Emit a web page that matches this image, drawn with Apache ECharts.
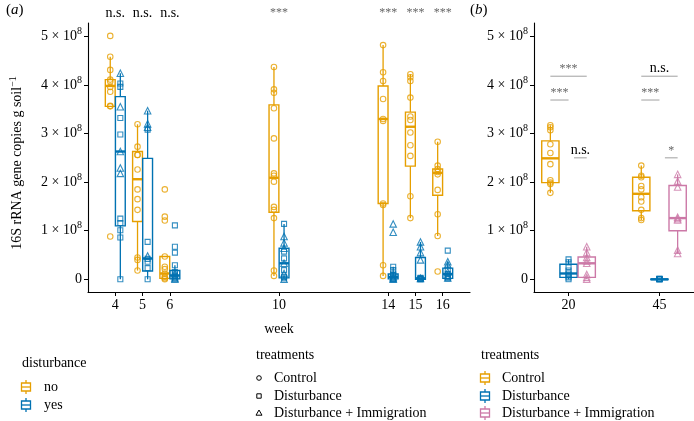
<!DOCTYPE html>
<html><head><meta charset="utf-8">
<script src="https://cdn.jsdelivr.net/npm/echarts@6.0.0/dist/echarts.min.js"></script>
<style>html,body{margin:0;padding:0;background:#fff}#c{width:694px;height:421px}</style>
</head><body><div id="c"></div>
<script>
// ---------- DATA (values in units of 10^8 copies g soil^-1) ----------
const weeks = [4, 5, 6, 10, 14, 15, 16];
const yTicks = [0, 1, 2, 3, 4, 5];
// box stats: [lower whisker, q1, median, q3, upper whisker]
const boxNo = [
  [3.56, 3.56, 3.98, 4.11, 4.58],
  [0.18, 1.19, 2.06, 2.63, 3.19],
  [0.00, 0.02, 0.12, 0.47, 0.47],
  [0.07, 1.38, 2.09, 3.59, 4.37],
  [0.07, 1.56, 3.30, 3.98, 4.82],
  [1.26, 2.33, 3.14, 3.44, 4.22],
  [0.89, 1.73, 2.19, 2.27, 2.83]
];
const boxYes = [
  [0.00, 1.10, 2.63, 3.76, 4.24],
  [0.00, 0.17, 0.43, 2.49, 3.47],
  [0.00, 0.01, 0.08, 0.18, 0.29],
  [0.00, 0.03, 0.33, 0.64, 1.14],
  [0.00, 0.01, 0.05, 0.11, 0.26],
  [0.00, 0.00, 0.02, 0.45, 0.77],
  [0.00, 0.02, 0.11, 0.23, 0.36]
];
// points, disturbance = no (Control, circles)
const noPts = [
  [5.01, 4.58, 4.31, 4.11, 4.07, 3.96, 3.86, 3.57, 3.56, 0.88],
  [3.19, 2.73, 2.56, 2.56, 2.26, 1.85, 1.65, 1.43, 0.45, 0.40, 0.18],
  [1.85, 1.29, 1.21, 0.47, 0.26, 0.21, 0.12, 0.05, 0.02, 0.00],
  [4.37, 3.91, 3.84, 3.52, 2.90, 2.18, 2.13, 2.01, 1.49, 1.43, 1.26, 0.18, 0.07],
  [4.82, 4.26, 4.08, 3.71, 3.30, 3.26, 1.56, 1.53, 0.29, 0.07],
  [4.22, 4.16, 4.08, 3.74, 3.35, 3.28, 3.02, 2.76, 2.54, 1.71, 1.26],
  [2.83, 2.34, 2.27, 2.21, 2.16, 1.84, 1.34, 0.89, 0.16]
];
// points, disturbance = yes: Disturbance (squares)
const yesSqPts = [
  [4.03, 3.96, 3.32, 2.98, 1.25, 1.16, 1.01, 0.86, 0.00],
  [3.08, 0.77, 0.42, 0.36, 0.23, 0.00],
  [1.11, 0.67, 0.55, 0.29, 0.15, 0.10, 0.06, 0.02],
  [1.14, 0.57, 0.43, 0.19, 0.05, 0.02],
  [0.26, 0.19, 0.12, 0.09, 0.06, 0.02, 0.00],
  [0.03, 0.02, 0.01, 0.00, 0.00],
  [0.59, 0.20, 0.11, 0.05, 0.02]
];
// points, disturbance = yes: Disturbance + Immigration (triangles)
const yesTriPts = [
  [4.24, 3.55, 2.63, 2.29, 2.18],
  [3.47, 3.20, 3.13, 0.48],
  [0.12, 0.08, 0.03, 0.00],
  [0.88, 0.75, 0.64, 0.33, 0.12, 0.00],
  [1.14, 0.97, 0.05, 0.02, 0.00],
  [0.77, 0.67, 0.55, 0.40, 0.02],
  [0.36, 0.30, 0.15, 0.08, 0.03]
];
const sigA = ['n.s.', 'n.s.', 'n.s.', '***', '***', '***', '***'];

// panel (b)
const bCats = ['20', '45'];
const ctrlBox = [[1.78, 1.99, 2.49, 2.85, 3.17], [1.22, 1.41, 1.76, 2.10, 2.34]];
const distBox = [[0.00, 0.04, 0.12, 0.31, 0.41], [0.00, 0.00, 0.00, 0.005, 0.01]];
const diBox   = [[0.00, 0.04, 0.33, 0.46, 0.67], [0.53, 1.00, 1.26, 1.93, 2.16]];
const ctrlPts = [[3.17, 3.13, 3.07, 2.78, 2.60, 2.37, 2.04, 1.99, 1.96, 1.78],
                 [2.34, 2.13, 2.10, 1.92, 1.85, 1.69, 1.60, 1.43, 1.26, 1.22]];
const distPts = [[0.41, 0.35, 0.25, 0.18, 0.12, 0.08, 0.04, 0.00],
                 [0.01, 0.01, 0.00, 0.00, 0.00, 0.00]];
const diPts   = [[0.67, 0.55, 0.45, 0.38, 0.33, 0.10, 0.04, 0.00],
                 [2.16, 2.02, 1.90, 1.28, 1.25, 1.22, 0.60, 0.53]];
// significance brackets in (b)
const sigBCat   = [0, 0, 0, 1, 1, 1];
const sigBFrom  = [-1, -1, 0.3, -1, -1, 0.3];
const sigBTo    = [1, 0, 1, 1, 0, 1];
const sigBLevel = [4.18, 3.69, 2.50, 4.18, 3.69, 2.50];
const sigBLabel = ['***', '***', 'n.s.', 'n.s.', '***', '*'];

// ---------- STYLE ----------
const F = '"Liberation Serif","Times New Roman",serif';
const ORANGE = '#E69F00', BLUE = '#0072B2', PINK = '#CC79A7';
const OFF_A = 0.185, W_A = 0.36, OFF_B = 0.2, W_B = 0.19;
const bPos = bCats.map((c, i) => i + 1);

function boxSeries(ax, rows, off, w, color) {
  return {
    type: 'custom', xAxisIndex: ax, yAxisIndex: ax, z: 2, silent: true,
    data: rows, encode: { x: 0, y: [1, 2, 3, 4, 5] },
    renderItem: (params, api) => {
      const x = api.value(0) + off;
      const c = k => api.coord([x, api.value(k)]);
      const lo = c(1), q1 = c(2), md = c(3), q3 = c(4), hi = c(5);
      const half = api.size([w, 0])[0] / 2;
      return { type: 'group', children: [
        { type: 'line', shape: { x1: lo[0], y1: lo[1], x2: q1[0], y2: q1[1] }, style: { stroke: color, lineWidth: 1.3 } },
        { type: 'line', shape: { x1: q3[0], y1: q3[1], x2: hi[0], y2: hi[1] }, style: { stroke: color, lineWidth: 1.3 } },
        { type: 'rect', shape: { x: md[0] - half, y: q3[1], width: 2 * half, height: Math.max(q1[1] - q3[1], 0.5) },
          style: { fill: '#fff', stroke: color, lineWidth: 1.4 } },
        { type: 'line', shape: { x1: md[0] - half, y1: md[1], x2: md[0] + half, y2: md[1] }, style: { stroke: color, lineWidth: 2.4 } }
      ]};
    }
  };
}
function ptSeries(ax, data, symbol, size, color) {
  return { type: 'scatter', xAxisIndex: ax, yAxisIndex: ax, z: 3, silent: true, symbol, symbolSize: size, data,
    itemStyle: { color: 'rgba(255,255,255,0)', borderColor: color, borderWidth: 1.1 } };
}
const rowsA = (box) => weeks.map((w, i) => [w].concat(box[i]));
const rowsB = (box) => bPos.map((p, i) => [p].concat(box[i]));
const ptsA = (pts, off) => weeks.flatMap((w, i) => pts[i].map(v => [w + off, v]));
const ptsB = (pts, off) => bPos.flatMap((p, i) => pts[i].map(v => [p + off, v]));

const yLabel = {
  customValues: yTicks, margin: 6,
  formatter: v => v === 0 ? '{n|0}' : '{n|' + v + ' × 10}{s|8}',
  rich: {
    n: { fontFamily: F, fontSize: 14, color: '#000', lineHeight: 20 },
    s: { fontFamily: F, fontSize: 10, color: '#000', lineHeight: 10, verticalAlign: 'top' }
  }
};
const axisLineStyle = { show: true, onZero: false, lineStyle: { color: '#000', width: 1.1 } };

function txt(x, y, s, size, align) {
  return { type: 'text', x, y, style: { text: s, font: size + 'px ' + F, fill: '#000', textAlign: align || 'left', textVerticalAlign: 'middle' } };
}
function boxIcon(cx, cy, color) {
  return { type: 'group', children: [
    { type: 'line', shape: { x1: cx, y1: cy - 7, x2: cx, y2: cy + 7 }, style: { stroke: color, lineWidth: 1.3 } },
    { type: 'rect', shape: { x: cx - 4.5, y: cy - 4, width: 9, height: 8 }, style: { fill: '#fff', stroke: color, lineWidth: 1.3 } },
    { type: 'line', shape: { x1: cx - 4.5, y1: cy, x2: cx + 4.5, y2: cy }, style: { stroke: color, lineWidth: 1.3 } }
  ]};
}
const LY = [378, 396, 413];
const treatNames = ['Control', 'Disturbance', 'Disturbance + Immigration'];
const graphics = [
  { type: 'text', x: 6, y: 10, style: { text: '{p|(}{i|a}{p|)}', textVerticalAlign: 'middle',
      rich: { p: { fontFamily: F, fontSize: 15, fill: '#000' }, i: { fontFamily: F, fontSize: 15, fontStyle: 'italic', fill: '#000' } } } },
  { type: 'text', x: 470, y: 10, style: { text: '{p|(}{i|b}{p|)}', textVerticalAlign: 'middle',
      rich: { p: { fontFamily: F, fontSize: 15, fill: '#000' }, i: { fontFamily: F, fontSize: 15, fontStyle: 'italic', fill: '#000' } } } },
  { type: 'text', x: 17, y: 163, rotation: Math.PI / 2,
    style: { text: '{n|16S rRNA gene copies g soil}{s|−1}', textAlign: 'center', textVerticalAlign: 'middle',
      rich: { n: { fontFamily: F, fontSize: 14, fill: '#000', lineHeight: 18 }, s: { fontFamily: F, fontSize: 10, fill: '#000', lineHeight: 10, verticalAlign: 'top' } } } },
  txt(22, 363, 'disturbance', 14),
  boxIcon(26, 387, ORANGE), txt(44, 387, 'no', 14),
  boxIcon(26, 405, BLUE), txt(44, 405, 'yes', 14),
  txt(256, 355, 'treatments', 14),
  { type: 'circle', shape: { cx: 259, cy: LY[0], r: 2.3 }, style: { fill: 'none', stroke: '#000', lineWidth: 1 } },
  { type: 'rect', shape: { x: 256.8, y: LY[1] - 2.2, width: 4.4, height: 4.4 }, style: { fill: 'none', stroke: '#000', lineWidth: 1 } },
  { type: 'polygon', shape: { points: [[259, LY[2] - 3], [262, LY[2] + 2.2], [256, LY[2] + 2.2]] }, style: { fill: 'none', stroke: '#000', lineWidth: 1 } },
  txt(481, 355, 'treatments', 14),
  boxIcon(485, LY[0], ORANGE), boxIcon(485, LY[1], BLUE), boxIcon(485, LY[2], PINK)
];
treatNames.forEach((n, i) => { graphics.push(txt(274, LY[i], n, 14)); graphics.push(txt(502, LY[i], n, 14)); });

const option = {
  animation: false,
  backgroundColor: '#fff',
  grid: [
    { left: 88, top: 23, width: 382, height: 269 },
    { left: 534, top: 23, width: 160, height: 269 }
  ],
  xAxis: [
    { type: 'value', gridIndex: 0, min: 3, max: 17, axisLine: axisLineStyle, splitLine: { show: false },
      axisTick: { show: true, customValues: weeks, length: 4, lineStyle: { color: '#000' } },
      axisLabel: { customValues: weeks, margin: 6, fontFamily: F, fontSize: 14, color: '#000' },
      name: 'week', nameLocation: 'middle', nameGap: 30, nameTextStyle: { fontFamily: F, fontSize: 14, color: '#000' } },
    { type: 'value', gridIndex: 1, min: 0.62, max: 2.38, axisLine: axisLineStyle, splitLine: { show: false },
      axisTick: { show: true, customValues: bPos, length: 4, lineStyle: { color: '#000' } },
      axisLabel: { customValues: bPos, margin: 6, fontFamily: F, fontSize: 14, color: '#000', formatter: v => bCats[Math.round(v) - 1] } }
  ],
  yAxis: [
    { type: 'value', gridIndex: 0, min: -0.261, max: 5.275, axisLine: axisLineStyle, splitLine: { show: false },
      axisTick: { show: true, customValues: yTicks, length: 4, lineStyle: { color: '#000' } }, axisLabel: yLabel },
    { type: 'value', gridIndex: 1, min: -0.261, max: 5.275, axisLine: axisLineStyle, splitLine: { show: false },
      axisTick: { show: true, customValues: yTicks, length: 4, lineStyle: { color: '#000' } }, axisLabel: yLabel }
  ],
  graphic: { elements: graphics },
  series: [
    boxSeries(0, rowsA(boxNo), -OFF_A, W_A, ORANGE),
    boxSeries(0, rowsA(boxYes), OFF_A, W_A, BLUE),
    ptSeries(0, ptsA(noPts, -OFF_A), 'circle', 5.5, ORANGE),
    ptSeries(0, ptsA(yesSqPts, OFF_A), 'rect', 5, BLUE),
    ptSeries(0, ptsA(yesTriPts, OFF_A), 'triangle', 6.5, BLUE),
    {
      type: 'custom', xAxisIndex: 0, yAxisIndex: 0, z: 4, silent: true, clip: false,
      data: weeks.map((w, i) => [w, i]),
      renderItem: (params, api) => {
        const p = api.coord([api.value(0), 5.48]);
        const s = sigA[params.dataIndex];
        return { type: 'text', x: p[0], y: p[1], style: { text: s, font: (s === 'n.s.' ? 14 : 12) + 'px ' + F,
          fill: s === 'n.s.' ? '#000' : '#666', textAlign: 'center', textVerticalAlign: 'middle' } };
      }
    },
    boxSeries(1, rowsB(ctrlBox), -OFF_B, W_B, ORANGE),
    boxSeries(1, rowsB(distBox), 0, W_B, BLUE),
    boxSeries(1, rowsB(diBox), OFF_B, W_B, PINK),
    ptSeries(1, ptsB(ctrlPts, -OFF_B), 'circle', 5.5, ORANGE),
    ptSeries(1, ptsB(distPts, 0), 'rect', 5, BLUE),
    ptSeries(1, ptsB(diPts, OFF_B), 'triangle', 6.5, PINK),
    {
      type: 'custom', xAxisIndex: 1, yAxisIndex: 1, z: 4, silent: true, clip: false,
      data: sigBCat.map((c, i) => [bPos[c] + sigBFrom[i] * OFF_B, bPos[c] + sigBTo[i] * OFF_B, sigBLevel[i]]),
      renderItem: (params, api) => {
        const a = api.coord([api.value(0), api.value(2)]);
        const b = api.coord([api.value(1), api.value(2)]);
        const s = sigBLabel[params.dataIndex];
        return { type: 'group', children: [
          { type: 'line', shape: { x1: a[0], y1: a[1], x2: b[0], y2: b[1] }, style: { stroke: '#888', lineWidth: 0.8 } },
          { type: 'text', x: (a[0] + b[0]) / 2, y: a[1] - 1, style: { text: s, font: (s === 'n.s.' ? 14 : 12) + 'px ' + F,
            fill: s === 'n.s.' ? '#000' : '#666', textAlign: 'center', textVerticalAlign: 'bottom' } }
        ]};
      }
    }
  ]
};
const chart = echarts.init(document.getElementById('c'), null, { renderer: 'canvas' });
chart.setOption(option);
</script></body></html>
